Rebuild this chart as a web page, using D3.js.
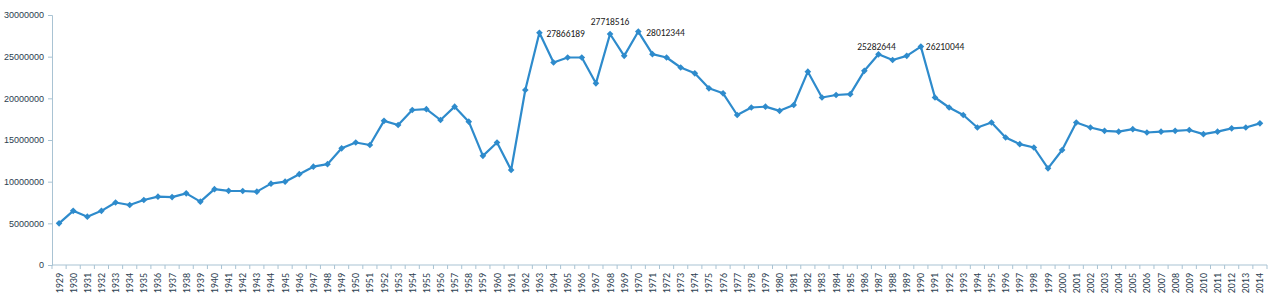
<!DOCTYPE html>
<html>
<head>
<meta charset="utf-8">
<script src="https://cdn.jsdelivr.net/npm/d3@7"></script>
<style>
  body { margin: 0; background: #fff; }
  svg { display: block; font-family: Calibri, Carlito, "Liberation Sans", "DejaVu Sans", sans-serif; }
</style>
</head>
<body>
<script>
// years on the category axis
var years = d3.range(1929, 2015).map(String);

// values, one per year
var values = [
  5000000, 6500000, 5800000, 6500000, 7500000, 7200000, 7800000, 8200000, 8150000, 8600000,
  7600000, 9100000, 8900000, 8880000, 8800000, 9760000, 10000000, 10900000, 11800000, 12100000,
  14000000, 14700000, 14400000, 17300000, 16800000, 18600000, 18700000, 17400000, 19000000, 17200000,
  13100000, 14700000, 11400000, 21000000, 27866189, 24300000, 24900000, 24900000, 21800000, 27718516,
  25100000, 28012344, 25300000, 24900000, 23700000, 23000000, 21200000, 20600000, 18000000, 18900000,
  19000000, 18500000, 19200000, 23200000, 20100000, 20400000, 20500000, 23300000, 25282644, 24600000,
  25100000, 26210044, 20100000, 18900000, 18000000, 16500000, 17100000, 15300000, 14500000, 14100000,
  11600000, 13800000, 17100000, 16500000, 16100000, 16000000, 16300000, 15900000, 16000000, 16100000,
  16200000, 15700000, 16000000, 16400000, 16500000, 17000000
];

var yTicks = [0, 5000000, 10000000, 15000000, 20000000, 25000000, 30000000];

// which points get a value label
var labelYears = ["1963", "1968", "1970", "1987", "1990"];

// label placement (offsets from the point)
var labelPos = {
  "1963": {dx: 7, dy: 4, anchor: "start"},
  "1968": {dx: 0, dy: -9, anchor: "middle"},
  "1970": {dx: 8, dy: 4, anchor: "start"},
  "1987": {dx: -2, dy: -4, anchor: "middle"},
  "1990": {dx: 5, dy: 3, anchor: "start"}
};

var data = years.map(function(y, i){ return {year: y, value: values[i]}; });

var svg = d3.select("body").append("svg").attr("width", 1280).attr("height", 300);

var x = d3.scaleBand().domain(years).range([52, 1267]).padding(0);
var y = d3.scaleLinear().domain([0, 30000000]).range([265, 15]);

var axisColor = "#a9c3d3";
var textColor = "#2b4050";
var lineColor = "#2e8bcc";

// y axis
var yAxis = svg.append("g").attr("transform", "translate(52,0)")
  .call(d3.axisLeft(y).tickValues(yTicks).tickSize(4).tickPadding(4).tickFormat(d3.format("d")));
yAxis.selectAll("path, line").attr("stroke", axisColor);
yAxis.selectAll("text").attr("fill", textColor).style("font-size", "9px");

// x axis, ticks between categories
var xAxis = svg.append("g").attr("transform", "translate(0,265)");
xAxis.append("line").attr("x1", 52).attr("x2", 1267).attr("stroke", axisColor);
xAxis.selectAll("line.tick").data(years.concat(["end"])).enter().append("line")
  .attr("class", "tick")
  .attr("x1", function(d, i){ return 52 + i * x.bandwidth(); })
  .attr("x2", function(d, i){ return 52 + i * x.bandwidth(); })
  .attr("y1", 0).attr("y2", 4).attr("stroke", axisColor);
xAxis.selectAll("text").data(years).enter().append("text")
  .attr("transform", function(d){ return "translate(" + (x(d) + x.bandwidth() / 2 + 3.5) + ",8) rotate(-90)"; })
  .attr("text-anchor", "end")
  .attr("fill", textColor)
  .style("font-size", "10px")
  .text(function(d){ return d; });

// line and markers
var line = d3.line()
  .x(function(d){ return x(d.year) + x.bandwidth() / 2; })
  .y(function(d){ return y(d.value); });

svg.append("path").attr("d", line(data))
  .attr("fill", "none").attr("stroke", lineColor).attr("stroke-width", 2.2)
  .attr("stroke-linejoin", "round");

svg.selectAll("path.pt").data(data).enter().append("path")
  .attr("class", "pt")
  .attr("d", d3.symbol().type(d3.symbolSquare).size(22))
  .attr("transform", function(d){ return "translate(" + (x(d.year) + x.bandwidth() / 2) + "," + y(d.value) + ") rotate(45)"; })
  .attr("fill", lineColor);

// value labels
var labelled = data.filter(function(d){ return labelYears.indexOf(d.year) >= 0; });
svg.selectAll("text.lbl").data(labelled).enter().append("text")
  .attr("class", "lbl")
  .attr("x", function(d){ return x(d.year) + x.bandwidth() / 2 + labelPos[d.year].dx; })
  .attr("y", function(d){ return y(d.value) + labelPos[d.year].dy; })
  .attr("text-anchor", function(d){ return labelPos[d.year].anchor; })
  .attr("fill", "#222")
  .style("font-size", "9.5px")
  .text(function(d){ return d.value; });
</script>
</body>
</html>
